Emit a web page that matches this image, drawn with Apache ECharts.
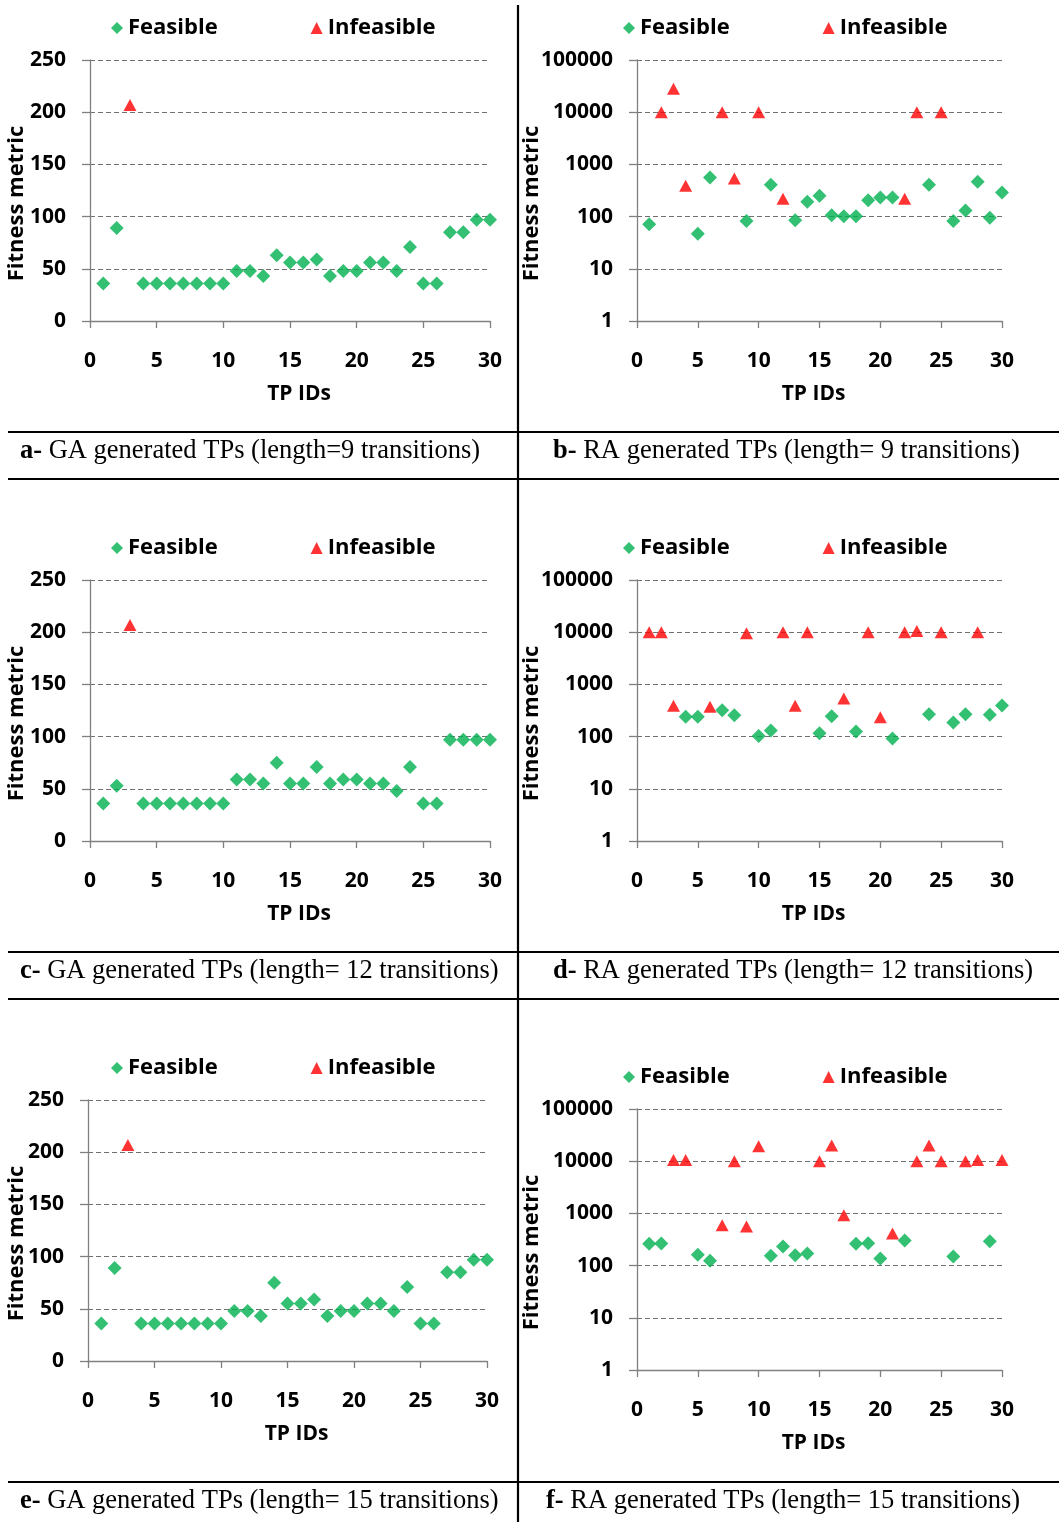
<!DOCTYPE html>
<html>
<head>
<meta charset="utf-8">
<style>
html,body{margin:0;padding:0;background:#fff;}
#main{width:1059px;height:1522px;}
</style>
<script src="https://cdn.jsdelivr.net/npm/echarts@6/dist/echarts.min.js"></script>
</head>
<body>
<div id="main"></div>
<script>
// ---- Data ----
const tickIds = [0, 5, 10, 15, 20, 25, 30];
const linearTicks = [0, 50, 100, 150, 200, 250];
const logTicks = [1, 10, 100, 1000, 10000, 100000];

// a- GA, length 9
const aFeasIds = [1,2,4,5,6,7,8,9,10,11,12,13,14,15,16,17,18,19,20,21,22,23,24,25,26,27,28,29,30];
const aFeasVals = [36,89,36,36,36,36,36,36,36,48,48,43,63,56,56,59,43,48,48,56,56,48,71,36,36,85,85,97,97];
const aInfIds = [3];
const aInfVals = [207];

// b- RA, length 9
const bFeasIds = [1,5,6,9,11,13,14,15,16,17,18,19,20,21,24,26,27,28,29,30];
const bFeasVals = [71,47,561,82,406,85,192,250,106,102,102,206,232,232,406,82,131,464,95,290];
const bInfIds = [2,3,4,7,8,10,12,22,23,25];
const bInfVals = [10000,28000,390,10000,537,10000,219,219,10000,10000];

// c- GA, length 12
const cFeasIds = [1,2,4,5,6,7,8,9,10,11,12,13,14,15,16,17,18,19,20,21,22,23,24,25,26,27,28,29,30];
const cFeasVals = [36,53,36,36,36,36,36,36,36,59,59,55,75,55,55,71,55,59,59,55,55,48,71,36,36,97,97,97,97];
const cInfIds = [3];
const cInfVals = [207];

// d- RA, length 12
const dFeasIds = [4,5,7,8,10,11,15,16,18,21,24,26,27,29,30];
const dFeasVals = [239,239,321,257,103,131,116,246,125,92,269,186,269,261,394];
const dInfIds = [1,2,3,6,9,12,13,14,17,19,20,22,23,25,28];
const dInfVals = [10000,10000,388,374,9500,10000,388,10000,537,10000,236,10000,10500,10000,10000];

// e- GA, length 15
const eFeasIds = [1,2,4,5,6,7,8,9,10,11,12,13,14,15,16,17,18,19,20,21,22,23,24,25,26,27,28,29,30];
const eFeasVals = [36,89,36,36,36,36,36,36,36,48,48,43,75,55,55,59,43,48,48,55,55,48,71,36,36,85,85,97,97];
const eInfIds = [3];
const eInfVals = [207];

// f- RA, length 15
const fFeasIds = [1,2,5,6,11,12,13,14,18,19,20,22,26,29];
const fFeasVals = [261,266,161,124,154,232,158,171,261,269,137,303,150,294];
const fInfIds = [3,4,7,8,9,10,15,16,17,21,23,24,25,27,28,30];
const fInfVals = [10500,10500,594,10000,560,19300,10000,20000,925,412,10000,20000,10000,10000,10500,10500];

const seriesNames = ['Feasible', 'Infeasible'];
const captions = [
  ['a-', ' GA generated TPs (length=9 transitions)'],
  ['b-', ' RA generated TPs (length= 9 transitions)'],
  ['c-', ' GA generated TPs (length= 12 transitions)'],
  ['d-', ' RA generated TPs (length= 12 transitions)'],
  ['e-', ' GA generated TPs (length= 15 transitions)'],
  ['f-', ' RA generated TPs (length= 15 transitions)']
];

// ---- Layout / style ----
const FONT = '"Open Sans", "Noto Sans", sans-serif';
const SERIF = '"Liberation Serif", "Times New Roman", serif';
const GREEN = '#00B050';
const RED = '#FF0000';
const panels = [
  {log:false, grid:{left:90, top:60, width:400, height:261}, legend:{left:106, top:12}, feas:[aFeasIds,aFeasVals], inf:[aInfIds,aInfVals], yNameGap:62, xPad:[0,0,0,18], cap:{x:20, y:453}},
  {log:true,  grid:{left:637, top:60, width:365, height:261}, legend:{left:618, top:12}, feas:[bFeasIds,bFeasVals], inf:[bInfIds,bInfVals], yNameGap:94, xPad:[0,12,0,0], cap:{x:553, y:453}},
  {log:false, grid:{left:90, top:580, width:400, height:261}, legend:{left:106, top:532}, feas:[cFeasIds,cFeasVals], inf:[cInfIds,cInfVals], yNameGap:62, xPad:[0,0,0,18], cap:{x:20, y:973}},
  {log:true,  grid:{left:637, top:580, width:365, height:261}, legend:{left:618, top:532}, feas:[dFeasIds,dFeasVals], inf:[dInfIds,dInfVals], yNameGap:94, xPad:[0,12,0,0], cap:{x:553, y:973}},
  {log:false, grid:{left:88, top:1100, width:399, height:261}, legend:{left:106, top:1052}, feas:[eFeasIds,eFeasVals], inf:[eInfIds,eInfVals], yNameGap:60, xPad:[0,0,0,18], cap:{x:20, y:1503}},
  {log:true,  grid:{left:637, top:1109, width:365, height:261}, legend:{left:618, top:1061}, feas:[fFeasIds,fFeasVals], inf:[fInfIds,fInfVals], yNameGap:94, xPad:[0,12,0,0], cap:{x:546, y:1503}}
];

const zip = (ids, vals) => ids.map((id, i) => [id, vals[i]]);

const grids = [], xAxes = [], yAxes = [], series = [], legends = [], graphics = [];
panels.forEach((p, i) => {
  grids.push(Object.assign({containLabel:false}, p.grid));
  xAxes.push({
    type:'value', gridIndex:i, min:tickIds[0], max:tickIds[tickIds.length-1], interval:tickIds[1]-tickIds[0],
    name:'TP IDs', nameLocation:'middle', nameGap:63, nameMoveOverlap:false,
    nameTextStyle:{fontFamily:FONT, fontWeight:'bold', fontSize:21, color:'#000', padding:p.xPad},
    axisLine:{show:true, onZero:false, lineStyle:{color:'#808080', width:1.3}},
    axisTick:{show:true, inside:false, length:7, lineStyle:{color:'#808080', width:1.3}},
    axisLabel:{show:true, margin:30, fontFamily:FONT, fontWeight:'bold', fontSize:21, color:'#000'},
    splitLine:{show:false}
  });
  const yCommon = {
    gridIndex:i, name:'Fitness metric', nameLocation:'middle', nameGap:p.yNameGap, nameRotate:90,
    nameMoveOverlap:false,
    nameTextStyle:{fontFamily:FONT, fontWeight:'bold', fontSize:22, color:'#000', padding:[0,26,0,0]},
    axisLine:{show:true, lineStyle:{color:'#808080', width:1.3}},
    axisTick:{show:true, inside:false, length:8, lineStyle:{color:'#808080', width:1.3}},
    axisLabel:{show:true, margin:24, fontFamily:FONT, fontWeight:'bold', fontSize:21, color:'#000',
               formatter:function (v) { return String(v); }},
    splitLine:{show:true, lineStyle:{color:'#707070', width:1.2, type:[5,3]}}
  };
  if (p.log) {
    yAxes.push(Object.assign({type:'log', logBase:10, min:logTicks[0], max:logTicks[logTicks.length-1]}, yCommon));
  } else {
    yAxes.push(Object.assign({type:'value', min:linearTicks[0], max:linearTicks[linearTicks.length-1], interval:linearTicks[1]-linearTicks[0]}, yCommon));
  }
  series.push({
    name:seriesNames[0], type:'scatter', xAxisIndex:i, yAxisIndex:i,
    symbol:'diamond', symbolSize:[14,14], itemStyle:{color:GREEN},
    data:zip(p.feas[0], p.feas[1]), z:3
  });
  series.push({
    name:seriesNames[1], type:'scatter', xAxisIndex:i, yAxisIndex:i,
    symbol:'triangle', symbolSize:[13,12], itemStyle:{color:RED},
    data:zip(p.inf[0], p.inf[1]), z:4
  });
  legends.push({
    left:p.legend.left, top:p.legend.top, orient:'horizontal', itemGap:93, itemWidth:12, itemHeight:12,
    selectedMode:false,
    data:[{name:seriesNames[0], icon:'diamond'}, {name:seriesNames[1], icon:'triangle'}],
    textStyle:{fontFamily:FONT, fontWeight:'bold', fontSize:22, color:'#000', padding:[0,0,0,0]},
    itemStyle:{borderWidth:0}
  });
  graphics.push({
    type:'text', left:p.cap.x, top:p.cap.y - 15,
    style:{
      text:'{b|' + captions[i][0] + '}{n|' + captions[i][1] + '}',
      rich:{
        b:{fontFamily:SERIF, fontWeight:'bold', fontSize:26.5, lineHeight:30, fill:'#000'},
        n:{fontFamily:SERIF, fontWeight:'normal', fontSize:26.5, lineHeight:30, fill:'#000'}
      }
    }
  });
});

// table rules
const hLines = [432, 479, 952, 999, 1482];
hLines.forEach(y => graphics.push({type:'line', shape:{x1:8, y1:y, x2:1059, y2:y}, style:{stroke:'#000', lineWidth:2.2}}));
graphics.push({type:'line', shape:{x1:518, y1:5, x2:518, y2:1522}, style:{stroke:'#000', lineWidth:2.2}});

const chart = echarts.init(document.getElementById('main'), null, {renderer:'canvas'});
chart.setOption({
  backgroundColor:'#fff',
  animation:false,
  grid:grids, xAxis:xAxes, yAxis:yAxes, series:series, legend:legends, graphic:graphics
});
</script>
</body>
</html>
